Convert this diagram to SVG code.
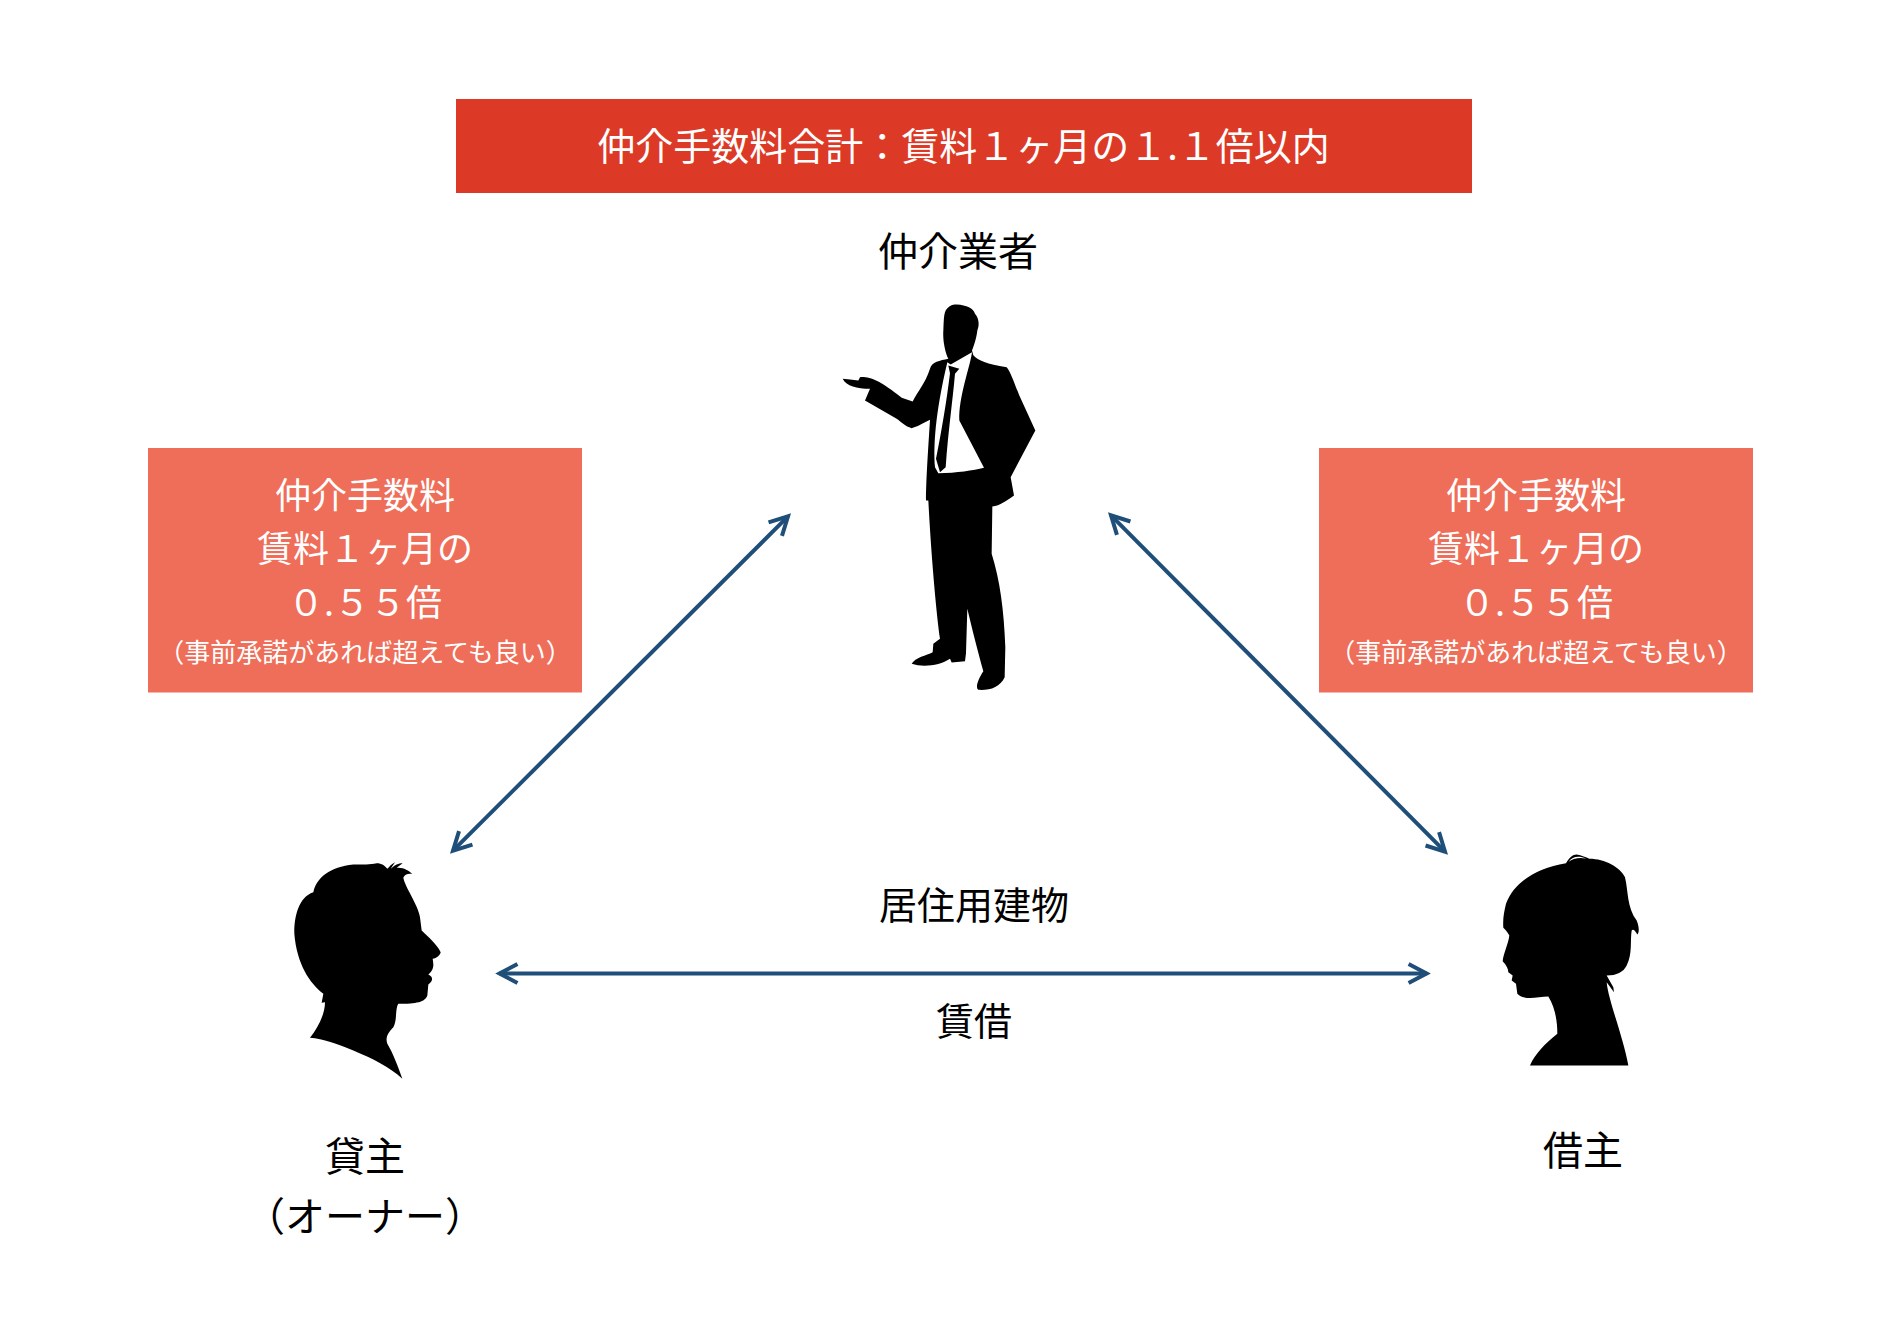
<svg xmlns="http://www.w3.org/2000/svg" width="1894" height="1338" viewBox="0 0 1894 1338">
<defs>
<style>
text{font-family:"Noto Sans CJK JP","Liberation Sans",sans-serif;font-weight:400;text-anchor:middle}
.w{fill:#fff;font-size:36px}
.s{fill:#fff;font-size:26px}
.k{fill:#000;font-size:40px}
.m{fill:#000;font-size:38px}
.c{fill:none;stroke:#1f4e79;stroke-width:4;marker-start:url(#a);marker-end:url(#a)}
.box{fill:#ef6e59}
</style>
<marker id="a" markerUnits="userSpaceOnUse" markerWidth="40" markerHeight="40" refX="0" refY="0" viewBox="-25 -20 40 40" orient="auto-start-reverse" overflow="visible">
<path d="M-18,-9.5L0,0L-18,9.5" fill="none" stroke="#1f4e79" stroke-width="4"/>
</marker>
</defs>
<rect width="1894" height="1338" fill="#fff"/>
<g id="total"><rect x="456" y="99" width="1016" height="94" fill="#dc3a26"/><text x="963.500" y="160" fill="#fff" font-size="38">仲介手数料合計：賃料１ヶ月の１.１倍以内</text></g>
<g id="fee-left"><rect class="box" x="148" y="448" width="434" height="244.500"/><text class="w" x="365" y="509">仲介手数料</text><text class="w" x="365" y="562">賃料１ヶ月の</text><text class="w" x="365" y="616">０.５５倍</text><text class="s" x="365" y="662">（事前承諾があれば超えても良い）</text></g>
<g id="fee-right"><rect class="box" x="1319" y="448" width="434" height="244.500"/><text class="w" x="1536" y="509">仲介手数料</text><text class="w" x="1536" y="562">賃料１ヶ月の</text><text class="w" x="1536" y="616">０.５５倍</text><text class="s" x="1536" y="662">（事前承諾があれば超えても良い）</text></g>
<g id="broker"><text class="k" x="958" y="266">仲介業者</text>
<g transform="translate(800,280.500) scale(.33333)">
<path d="M470,72C500,74 520,82 525,100C538,115 538,135 532,150C530,170 522,195 516,210L520,224C535,240 560,250 620,260C632,275 640,300 658,345L706,450L632,590L642,645C620,660 600,676 577,678L575,820C600,900 612,990 616,1100L614,1190C600,1220 570,1230 535,1228C525,1220 535,1195 550,1172C535,1120 515,1040 502,985L498,1118L495,1142L455,1146L450,1135C420,1155 370,1162 335,1150C345,1130 380,1125 398,1115L400,1090L420,1075C410,1000 395,850 385,660L378,660C378,600 385,500 390,418C370,428 350,440 335,443C315,438 305,425 290,415L195,360L210,325C170,325 140,318 128,295L150,297L175,300L180,290C210,288 240,300 305,352L338,363C355,330 375,310 390,265C395,245 420,240 445,235C435,215 428,180 430,150C432,110 430,90 448,78C458,72 462,72 470,72Z"/>
<path fill="#fff" d="M442,245L452,252L516,215C510,260 475,350 478,420L552,562C520,570 470,578 415,578L405,560C400,500 405,400 442,245Z"/>
<path d="M445,255L478,265L465,280C458,360 445,450 437,560L420,575L408,535C425,450 440,360 450,278Z"/>
</g></g>
<g id="owner"><g transform="translate(270,840.500) scale(.33333)">
<path d="M120,592C145,560 165,520 165,485L155,487L160,460C120,430 80,370 73,280C72,230 85,170 130,155C140,110 180,80 250,72C280,72 300,72 320,68C335,68 345,75 352,85C358,78 365,70 375,65L362,85C375,72 385,68 398,68L380,82C400,80 415,90 427,100C415,100 405,100 400,112C405,140 445,195 450,230L455,270C475,290 500,310 512,335C510,345 500,352 488,355C490,370 495,385 475,402C490,410 490,420 475,432L472,465C465,485 440,490 385,490C375,505 382,540 370,560C355,575 345,590 352,610C370,640 385,680 397,715C360,680 310,655 250,630C200,610 160,595 120,592Z"/>
</g><text class="k" x="365" y="1171">貸主</text><text class="k" x="365" y="1231">（オーナー）</text></g>
<g id="tenant"><g transform="translate(1480,840.500) scale(.33333)">
<path d="M150,675C165,640 195,610 232,580C232,540 225,500 205,468C170,470 130,480 112,460L108,430L95,420L98,405L85,395C85,385 80,375 68,362C70,340 85,310 88,285C82,275 76,268 70,262C68,235 72,215 78,190C100,130 160,85 258,68C268,52 278,42 290,42C305,45 318,50 328,55C375,55 420,80 435,110C445,150 440,200 470,240C478,260 478,275 472,282C465,270 460,265 455,270C450,300 458,340 440,375C430,395 410,405 380,405L400,440L402,455L380,425C385,480 430,590 445,675Z"/>
<path fill="#fff" d="M266,64C278,54 296,50 318,54C298,46 278,46 266,64Z"/>
</g><text class="k" x="1583" y="1165">借主</text></g>
<g id="connectors">
<path class="c" d="M788,516.400L453,850.600"/>
<path class="c" d="M1111,515.400L1445,851.600"/>
<path class="c" d="M499.500,973.500L1426.600,973.500"/>
</g>
<g id="labels"><text class="m" x="974" y="919">居住用建物</text><text class="m" x="974" y="1035">賃借</text></g>
</svg>
